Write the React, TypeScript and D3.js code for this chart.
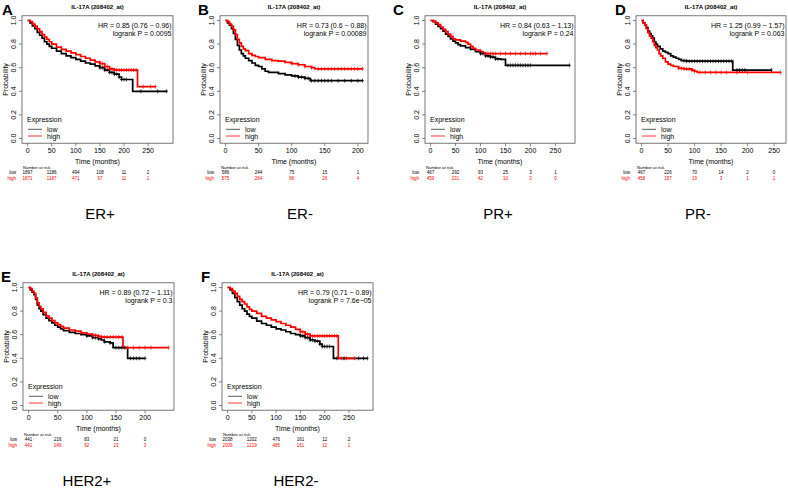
import React from "react";
import * as d3 from "d3";

const TITLE = "IL-17A (208402_at)";
const panelLetters = ["A", "B", "C", "D", "E", "F"];
const groupNames = ["ER+", "ER-", "PR+", "PR-", "HER2+", "HER2-"];
const hrTexts = [
  "HR = 0.85 (0.76 − 0.96)",
  "HR = 0.73 (0.6 − 0.88)",
  "HR = 0.84 (0.63 − 1.13)",
  "HR = 1.25 (0.99 − 1.57)",
  "HR = 0.89 (0.72 − 1.11)",
  "HR = 0.79 (0.71 − 0.89)",
];
const pTexts = [
  "logrank P = 0.0095",
  "logrank P = 0.00089",
  "logrank P = 0.24",
  "logrank P = 0.063",
  "logrank P = 0.3",
  "logrank P = 7.6e−05",
];
const yTicks = [0, 0.2, 0.4, 0.6, 0.8, 1.0];
const ticks250 = [0, 50, 100, 150, 200, 250];
const ticks200 = [0, 50, 100, 150, 200];

// Number at risk
const riskLowA = [1897, 1186, 494, 108, 11, 2];
const riskHighA = [1871, 1187, 471, 97, 11, 1];
const riskLowB = [586, 244, 75, 15, 1];
const riskHighB = [575, 264, 86, 26, 4];
const riskLowC = [467, 292, 93, 25, 3, 1];
const riskHighC = [459, 231, 42, 10, 3, 0];
const riskLowD = [467, 226, 70, 14, 2, 0];
const riskHighD = [458, 157, 19, 3, 1, 1];
const riskLowE = [441, 216, 83, 21, 0];
const riskHighE = [441, 246, 92, 23, 3];
const riskLowF = [2038, 1202, 476, 161, 12, 2];
const riskHighF = [2009, 1219, 485, 161, 12, 1];

// KM step points [time (months), survival]
const erPosLow: [number, number][] = [[0,1],[5,0.98],[10,0.955],[15,0.93],[20,0.9],[25,0.875],[30,0.85],[35,0.82],[40,0.8],[45,0.78],[50,0.765],[60,0.74],[70,0.72],[80,0.7],[90,0.685],[100,0.67],[110,0.655],[120,0.64],[130,0.63],[140,0.615],[150,0.6],[160,0.58],[170,0.56],[180,0.545],[190,0.52],[195,0.5],[218,0.4]];
const erPosHigh: [number, number][] = [[0,1],[5,0.99],[10,0.97],[15,0.95],[20,0.93],[25,0.905],[30,0.88],[35,0.86],[40,0.84],[45,0.82],[50,0.8],[60,0.775],[70,0.755],[80,0.74],[90,0.725],[100,0.71],[110,0.695],[120,0.68],[130,0.665],[140,0.65],[150,0.635],[160,0.61],[170,0.59],[180,0.58],[228,0.44]];
const erNegLow: [number, number][] = [[0,1],[3,0.98],[6,0.96],[9,0.93],[12,0.89],[15,0.84],[18,0.79],[21,0.75],[24,0.72],[27,0.7],[30,0.68],[35,0.66],[40,0.64],[45,0.62],[50,0.61],[55,0.59],[60,0.57],[65,0.56],[80,0.55],[90,0.54],[100,0.53],[110,0.52],[120,0.51],[128,0.49]];
const erNegHigh: [number, number][] = [[0,1],[3,0.99],[6,0.97],[9,0.95],[12,0.92],[15,0.88],[18,0.84],[21,0.81],[24,0.78],[27,0.76],[30,0.745],[35,0.72],[40,0.705],[45,0.695],[50,0.685],[60,0.67],[70,0.66],[80,0.655],[90,0.645],[100,0.635],[110,0.625],[120,0.61],[130,0.6],[135,0.59]];
const prPosLow: [number, number][] = [[0,1],[5,0.99],[10,0.97],[15,0.95],[20,0.93],[25,0.91],[30,0.885],[35,0.865],[40,0.845],[45,0.825],[50,0.81],[55,0.795],[60,0.785],[70,0.77],[80,0.755],[90,0.735],[100,0.72],[110,0.7],[120,0.69],[130,0.675],[140,0.67],[150,0.62]];
const prPosHigh: [number, number][] = [[0,1],[5,0.995],[10,0.98],[15,0.965],[20,0.945],[25,0.925],[30,0.905],[35,0.885],[40,0.865],[45,0.845],[50,0.835],[60,0.825],[70,0.815],[75,0.8],[80,0.78],[85,0.765],[90,0.75],[100,0.735],[105,0.725],[110,0.72]];
const prNegLow: [number, number][] = [[0,1],[3,0.98],[6,0.96],[9,0.94],[12,0.91],[15,0.89],[18,0.87],[21,0.85],[24,0.82],[27,0.8],[30,0.78],[35,0.76],[40,0.74],[45,0.73],[50,0.72],[55,0.7],[60,0.69],[65,0.68],[70,0.67],[75,0.66],[85,0.655],[172,0.58]];
const prNegHigh: [number, number][] = [[0,1],[3,0.98],[6,0.96],[9,0.93],[12,0.9],[15,0.87],[18,0.85],[21,0.82],[24,0.79],[27,0.77],[30,0.75],[33,0.72],[36,0.7],[40,0.68],[45,0.65],[50,0.63],[55,0.62],[60,0.61],[70,0.595],[80,0.59],[95,0.58],[100,0.57],[105,0.56]];
const her2PosLow: [number, number][] = [[0,1],[3,0.98],[6,0.96],[9,0.94],[12,0.9],[15,0.85],[18,0.82],[21,0.8],[25,0.77],[30,0.74],[35,0.72],[40,0.7],[45,0.68],[50,0.665],[55,0.65],[60,0.635],[70,0.62],[80,0.61],[90,0.6],[100,0.59],[110,0.575],[120,0.565],[125,0.555],[130,0.54],[140,0.53],[145,0.49],[170,0.4]];
const her2PosHigh: [number, number][] = [[0,1],[3,0.99],[6,0.97],[9,0.95],[12,0.91],[15,0.87],[18,0.84],[21,0.82],[25,0.79],[30,0.76],[35,0.74],[40,0.72],[45,0.7],[50,0.685],[55,0.67],[60,0.655],[70,0.64],[80,0.63],[90,0.615],[100,0.605],[110,0.595],[120,0.585],[125,0.58],[162,0.49]];
const her2NegLow: [number, number][] = [[0,1],[5,0.98],[10,0.95],[15,0.915],[20,0.88],[25,0.85],[30,0.82],[35,0.8],[40,0.775],[45,0.755],[50,0.74],[60,0.715],[70,0.695],[80,0.68],[90,0.665],[100,0.65],[110,0.64],[120,0.625],[130,0.61],[140,0.6],[150,0.59],[160,0.575],[170,0.555],[180,0.545],[190,0.52],[195,0.5],[218,0.4]];
const her2NegHigh: [number, number][] = [[0,1],[5,0.99],[10,0.97],[15,0.95],[20,0.925],[25,0.9],[30,0.88],[35,0.86],[40,0.835],[45,0.815],[50,0.8],[60,0.78],[70,0.755],[80,0.74],[90,0.725],[100,0.71],[110,0.695],[120,0.68],[130,0.665],[140,0.645],[150,0.625],[160,0.605],[170,0.59],[228,0.4]];

// last follow-up time of each curve
const endLow = [290, 207, 278, 245, 200, 288];
const endHigh = [265, 207, 233, 262, 240, 262];

// censoring times
const censLowA = [150,155,160,165,170,175,180,185,190,195,200,205,235,270,288];
const censHighA = [150,155,160,165,170,175,180,185,190,195,200,205,210,215,220,225,240,255,265];
const censLowB = [105,110,115,120,125,130,135,140,145,150,155,160,170,180,190,200,207];
const censHighB = [100,110,120,130,140,145,150,155,160,165,170,175,180,185,190,195,200,207];
const censLowC = [100,105,110,115,120,125,130,135,155,160,165,170,175,180,185,190,195,200,278];
const censHighC = [110,115,120,125,130,140,150,160,170,180,190,200,205,210,220,233];
const censLowD = [80,85,90,95,100,105,110,115,120,125,130,135,140,145,150,155,160,165,170,180,185,190,195,245];
const censHighD = [70,75,80,85,90,95,100,110,120,130,140,150,160,180,200,262];
const censLowE = [100,110,115,120,130,140,150,155,160,165,175,180,185,190,200];
const censHighE = [110,115,120,125,130,135,140,145,150,155,160,170,180,190,200,210,240];
const censLowF = [150,155,160,165,170,175,180,185,190,195,200,205,210,225,240,270,280,288];
const censHighF = [150,155,160,165,170,175,180,185,190,195,200,205,210,215,220,225,235,245,262];

const curvesLow = [erPosLow, erNegLow, prPosLow, prNegLow, her2PosLow, her2NegLow];
const curvesHigh = [erPosHigh, erNegHigh, prPosHigh, prNegHigh, her2PosHigh, her2NegHigh];
const censLow = [censLowA, censLowB, censLowC, censLowD, censLowE, censLowF];
const censHigh = [censHighA, censHighB, censHighC, censHighD, censHighE, censHighF];
const riskLow = [riskLowA, riskLowB, riskLowC, riskLowD, riskLowE, riskLowF];
const riskHigh = [riskHighA, riskHighB, riskHighC, riskHighD, riskHighE, riskHighF];
const timeTicks = [ticks250, ticks200, ticks250, ticks250, ticks200, ticks250];

// layout (pixels)
const layout = [
  { x0: 22, x1: 173, dy: 0, letterX: 2, groupX: 100, groupY: 218.5 },
  { x0: 220, x1: 368, dy: 0, letterX: 198, groupX: 300, groupY: 218.5 },
  { x0: 425, x1: 575, dy: 0, letterX: 393, groupX: 498, groupY: 218.5 },
  { x0: 636, x1: 786, dy: 0, letterX: 615, groupX: 698, groupY: 218.5 },
  { x0: 23, x1: 174, dy: 267, letterX: 1, groupX: 87, groupY: 486 },
  { x0: 222, x1: 373, dy: 267, letterX: 201, groupX: 296, groupY: 486 },
];

const RED = "#ff0000";
const FONT = "'Liberation Sans', Arial, Helvetica, sans-serif";

function survAt(curve: [number, number][], t: number) {
  let s = 1;
  for (const [tt, ss] of curve) {
    if (tt <= t) s = ss;
  }
  return s;
}

function Panel({ i }: { i: number }) {
  const L = layout[i];
  const maxT = Math.max(endLow[i], endHigh[i]);
  const x = d3.scaleLinear().domain([-0.04 * maxT, 1.04 * maxT]).range([L.x0, L.x1]);
  const y = d3.scaleLinear().domain([0, 1]).range([138.5 + L.dy, 20.5 + L.dy]);
  const top = y(1.04);
  const bottom = y(-0.04);
  const cx = (L.x0 + L.x1) / 2;
  const line = d3
    .line<[number, number]>()
    .x((d) => x(d[0]))
    .y((d) => y(d[1]))
    .curve(d3.curveStepAfter);

  const full = (c: [number, number][], end: number): [number, number][] => [
    ...c,
    [end, c[c.length - 1][1]],
  ];

  const dy = L.dy;
  const ticks = timeTicks[i];

  const censor = (times: number[], curve: [number, number][], color: string, key: string) =>
    times.map((t, k) => {
      const s = survAt(curve, t);
      return (
        <g key={key + k} stroke={color} strokeWidth={0.7}>
          <line x1={x(t)} x2={x(t)} y1={y(s) - 2} y2={y(s) + 2} />
          <line x1={x(t) - 1.5} x2={x(t) + 1.5} y1={y(s)} y2={y(s)} />
        </g>
      );
    });

  return (
    <g fontFamily={FONT}>
      <text x={L.letterX} y={15 + dy} fontSize={15} fontWeight="bold">
        {panelLetters[i]}
      </text>
      <text x={cx} y={8.5 + dy} fontSize={6} fontWeight="bold" textAnchor="middle">
        {TITLE}
      </text>
      <rect x={L.x0} y={top} width={L.x1 - L.x0} height={bottom - top} fill="none" stroke="#555" strokeWidth={0.8} />
      {yTicks.map((v) => (
        <g key={"y" + v}>
          <line x1={L.x0} x2={L.x0 - 3} y1={y(v)} y2={y(v)} stroke="#555" strokeWidth={0.7} />
          <text
            transform={`translate(${L.x0 - 6.5},${y(v)}) rotate(-90)`}
            fontSize={7}
            textAnchor="middle"
          >
            {v.toFixed(1)}
          </text>
        </g>
      ))}
      <text
        transform={`translate(${L.x0 - 14.5},${(top + bottom) / 2}) rotate(-90)`}
        fontSize={7}
        textAnchor="middle"
      >
        Probability
      </text>
      {ticks.map((t) => (
        <g key={"x" + t}>
          <line x1={x(t)} x2={x(t)} y1={bottom} y2={bottom + 3} stroke="#555" strokeWidth={0.7} />
          <text x={x(t)} y={153.3 + dy} fontSize={7} textAnchor="middle">
            {t}
          </text>
        </g>
      ))}
      <text x={cx} y={164.3 + dy} fontSize={7} textAnchor="middle">
        Time (months)
      </text>
      <path d={line(full(curvesLow[i], endLow[i])) || ""} fill="none" stroke="#000" strokeWidth={1.7} />
      <path d={line(full(curvesHigh[i], endHigh[i])) || ""} fill="none" stroke={RED} strokeWidth={1.7} />
      {censor(censLow[i], curvesLow[i], "#000", "cl")}
      {censor(censHigh[i], curvesHigh[i], RED, "ch")}
      <text x={L.x1 - 1.5} y={27.5 + dy} fontSize={7} textAnchor="end">
        {hrTexts[i]}
      </text>
      <text x={L.x1 - 1.5} y={35.5 + dy} fontSize={7} textAnchor="end">
        {pTexts[i]}
      </text>
      <text x={L.x0 + 5} y={121.8 + dy} fontSize={7}>
        Expression
      </text>
      <line x1={L.x0 + 6} x2={L.x0 + 20} y1={129.3 + dy} y2={129.3 + dy} stroke="#333" strokeWidth={0.8} />
      <text x={L.x0 + 25} y={131.8 + dy} fontSize={7}>
        low
      </text>
      <line x1={L.x0 + 6} x2={L.x0 + 20} y1={136 + dy} y2={136 + dy} stroke={RED} strokeWidth={0.8} />
      <text x={L.x0 + 25} y={138.5 + dy} fontSize={7}>
        high
      </text>
      <text x={L.x0 + 1} y={169.3 + dy} fontSize={4.2}>
        Number at risk
      </text>
      <text x={L.x0 - 6} y={174.3 + dy} fontSize={4.5} textAnchor="end">
        low
      </text>
      <text x={L.x0 - 6} y={180 + dy} fontSize={4.5} textAnchor="end" fill={RED}>
        high
      </text>
      {ticks.map((t, k) => (
        <g key={"r" + t}>
          <text x={x(t)} y={174.3 + dy} fontSize={4.5} textAnchor="middle">
            {riskLow[i][k]}
          </text>
          <text x={x(t)} y={180 + dy} fontSize={4.5} textAnchor="middle" fill={RED}>
            {riskHigh[i][k]}
          </text>
        </g>
      ))}
      <text x={L.groupX} y={L.groupY} fontSize={15} textAnchor="middle">
        {groupNames[i]}
      </text>
    </g>
  );
}

export default function App() {
  return (
    <svg
      width={788}
      height={490}
      style={{ position: "absolute", left: 0, top: 0, background: "#fff" }}
    >
      <rect width={788} height={490} fill="#fff" />
      {layout.map((_, i) => (
        <Panel key={i} i={i} />
      ))}
    </svg>
  );
}
